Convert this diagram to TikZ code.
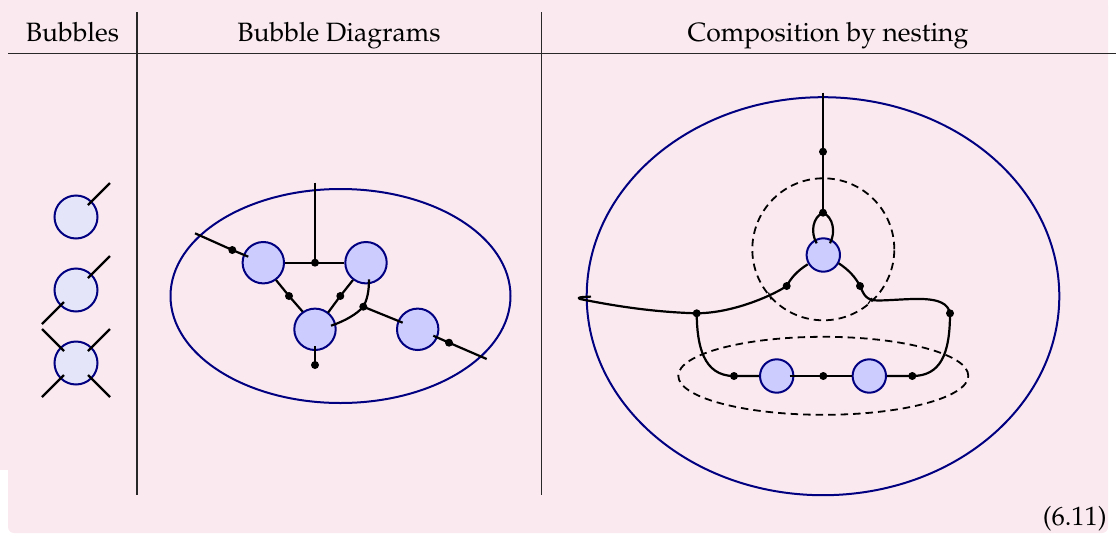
\documentclass[tikz,border=0pt]{standalone}
\usepackage[T1]{fontenc}
\usepackage{mathpazo}
\usetikzlibrary{shapes.geometric,calc}
\definecolor{bgpink}{RGB}{250,234,240}
\definecolor{navyb}{RGB}{0,0,128}
\definecolor{lightbub}{RGB}{229,229,250}
\definecolor{bub}{RGB}{204,204,255}
\definecolor{rulegray}{RGB}{40,40,40}
\begin{document}
\begin{tikzpicture}[x=1pt,y=-1pt,
  hdr/.style={font=\fontsize{26.5}{30}\selectfont, anchor=base, inner sep=0},
  rulel/.style={draw=rulegray, line width=1.4},
  wire/.style={draw=black, line width=2.2, line join=round},
  bubL/.style={circle, draw=navyb, fill=lightbub, line width=2, minimum size=43, inner sep=0},
  bubD/.style={circle, draw=navyb, fill=bub, line width=2, minimum size=41.4, inner sep=0},
  dotn/.style={circle, fill=black, minimum size=8, inner sep=0},
  outer/.style={ellipse, draw=navyb, line width=2, inner sep=0},
  nest/.style={draw=black, line width=1.8, dash pattern=on 7.5 off 5},
]
\useasboundingbox (0,0) rectangle (1116,533);
% background
\fill[bgpink, rounded corners=6] (8,0) rectangle (1108,533);
\fill[bgpink] (0,0) rectangle (1108,470);

% headers and rules
\node[hdr] (h1) at (72.5,41) {Bubbles};
\node[hdr] (h2) at (339,41) {Bubble Diagrams};
\node[hdr] (h3) at (828,41) {Composition by nesting};
\draw[rulel] (8,53.3) -- (1116,53.3);
\draw[rulel] (137,12) -- (137,495);
\draw[rulel] (541.5,12) -- (541.5,495);
\node[hdr, anchor=base east] (eq) at (1107,525) {(6.11)};

% ---------- column 1: bubbles ----------
\node[bubL] (b1) at (76,217) {};
\node[bubL] (b2) at (76,290) {};
\node[bubL] (b3) at (76,363) {};
\coordinate (b1ne) at (110,183);
\coordinate (b2ne) at (110,256);
\coordinate (b2sw) at (42,324);
\coordinate (b3ne) at (110,329);
\coordinate (b3nw) at (42,329);
\coordinate (b3sw) at (42,397);
\coordinate (b3se) at (110,397);
\draw[wire] ([shift={(12,-12)}]b1.center) -- (b1ne);
\draw[wire] ([shift={(12,-12)}]b2.center) -- (b2ne);
\draw[wire] ([shift={(-12,12)}]b2.center) -- (b2sw);
\draw[wire] ([shift={(12,-12)}]b3.center) -- (b3ne);
\draw[wire] ([shift={(-12,-12)}]b3.center) -- (b3nw);
\draw[wire] ([shift={(-12,12)}]b3.center) -- (b3sw);
\draw[wire] ([shift={(12,12)}]b3.center) -- (b3se);

% ---------- column 2: bubble diagram ----------
\node[outer, minimum width=340, minimum height=214] (big2) at (340.5,296) {};
\node[bubD] (A) at (263.3,262.7) {};
\node[bubD] (B) at (366,262.7) {};
\node[bubD] (C) at (315,329.3) {};
\node[bubD] (D) at (417.7,329.3) {};
\node[dotn] (j1) at (315,262.7) {};
\node[dotn] (dA) at (232.3,250) {};
\node[dotn] (dAC) at (289,296) {};
\node[dotn] (dBC) at (340.3,296) {};
\node[dotn] (j2) at (363.3,306.7) {};
\node[dotn] (dD) at (449,342.7) {};
\node[dotn] (dC) at (315,365) {};
\coordinate (top2) at (315,182.7);
\coordinate (leftend) at (195,233.3);
\coordinate (rightend) at (486.7,359);
\draw[wire] (top2) -- (j1.center);
\draw[wire] (A.east) -- (j1.center) -- (B.west);
\draw[wire] (leftend) -- (dA.center) -- ([shift={(-15,-6)}]A.center);
\draw[wire] ([shift={(12.7,17.3)}]A.center) -- (dAC.center) -- ([shift={(-12.3,-17.6)}]C.center);
\draw[wire] ([shift={(-13,17.3)}]B.center) -- (dBC.center) -- ([shift={(13,-16.6)}]C.center);
\draw[wire] ([shift={(3,16.6)}]B.center) .. controls (369,292) and (367,300) .. (j2.center)
  .. controls (357,314) and (345,321) .. ([shift={(16,-3.6)}]C.center);
\draw[wire] (j2.center) -- ([shift={(-15,-6.6)}]D.center);
\draw[wire] ([shift={(15.6,6.4)}]D.center) -- (dD.center) -- (rightend);
\draw[wire] ([shift={(0,16.7)}]C.center) -- (dC.center);

% ---------- column 3: composition by nesting ----------
\node[outer, minimum width=472.6, minimum height=398] (big3) at (823,296.2) {};
\node[circle, nest, minimum size=142, inner sep=0] (dc) at (823.3,249.3) {};
\node[ellipse, nest, minimum width=290, minimum height=78, inner sep=0] (de) at (823.3,375.8) {};
\node[bubD, minimum size=33.4] (G) at (823.3,255) {};
\node[bubD, minimum size=33.4] (E) at (776.7,376) {};
\node[bubD, minimum size=33.4] (F) at (869.3,376) {};
\node[dotn] (t1) at (823,151.7) {};
\node[dotn] (t2) at (823,212.7) {};
\node[dotn] (p1) at (786.7,286) {};
\node[dotn] (p2) at (860,286) {};
\node[dotn] (q1) at (696.7,313.3) {};
\node[dotn] (q2) at (950,313.3) {};
\node[dotn] (s1) at (734,376) {};
\node[dotn] (s2) at (823.3,376) {};
\node[dotn] (s3) at (912.3,376) {};
\coordinate (top3) at (823,92.7);
\coordinate (hook) at (591,296.6);

\draw[wire] (top3) -- (t1.center) -- (t2.center);
\draw[wire] ([shift={(-6.6,-11.7)}]G.center) .. controls (810,232) and (813,217) .. (t2.center)
  .. controls (833,217) and (836,232) .. ([shift={(6.7,-11.7)}]G.center);
\draw[wire] ([shift={(-15.6,9.3)}]G.center) .. controls (797,271) and (791,278) .. (p1.center)
  .. controls (775,294) and (735,313) .. (q1.center)
  .. controls (650,312) and (610,305) .. (580,299) .. controls (577,297.6) and (579,297) .. (hook);
\draw[wire] ([shift={(15.4,8.3)}]G.center) .. controls (849,270) and (856,278) .. (p2.center)
  .. controls (864,295) and (866,300.5) .. (878,300.5)
  .. controls (910,300) and (946,293) .. (q2.center);
\draw[wire] (q1.center) .. controls (697,345) and (703,376) .. (s1.center) -- (E.west);
\draw[wire] ([shift={(13,0)}]E.center) -- (s2.center) -- (F.west);
\draw[wire] (F.east) -- (s3.center) .. controls (940,376) and (950,355) .. (q2.center);
% small ticks where the legs cross the dashed circle
\draw[wire, line width=1.2] (768.5,292.5) -- (771,299.5);
\draw[wire, line width=1.2] (868,304) -- (872,298);
\end{tikzpicture}
\end{document}
